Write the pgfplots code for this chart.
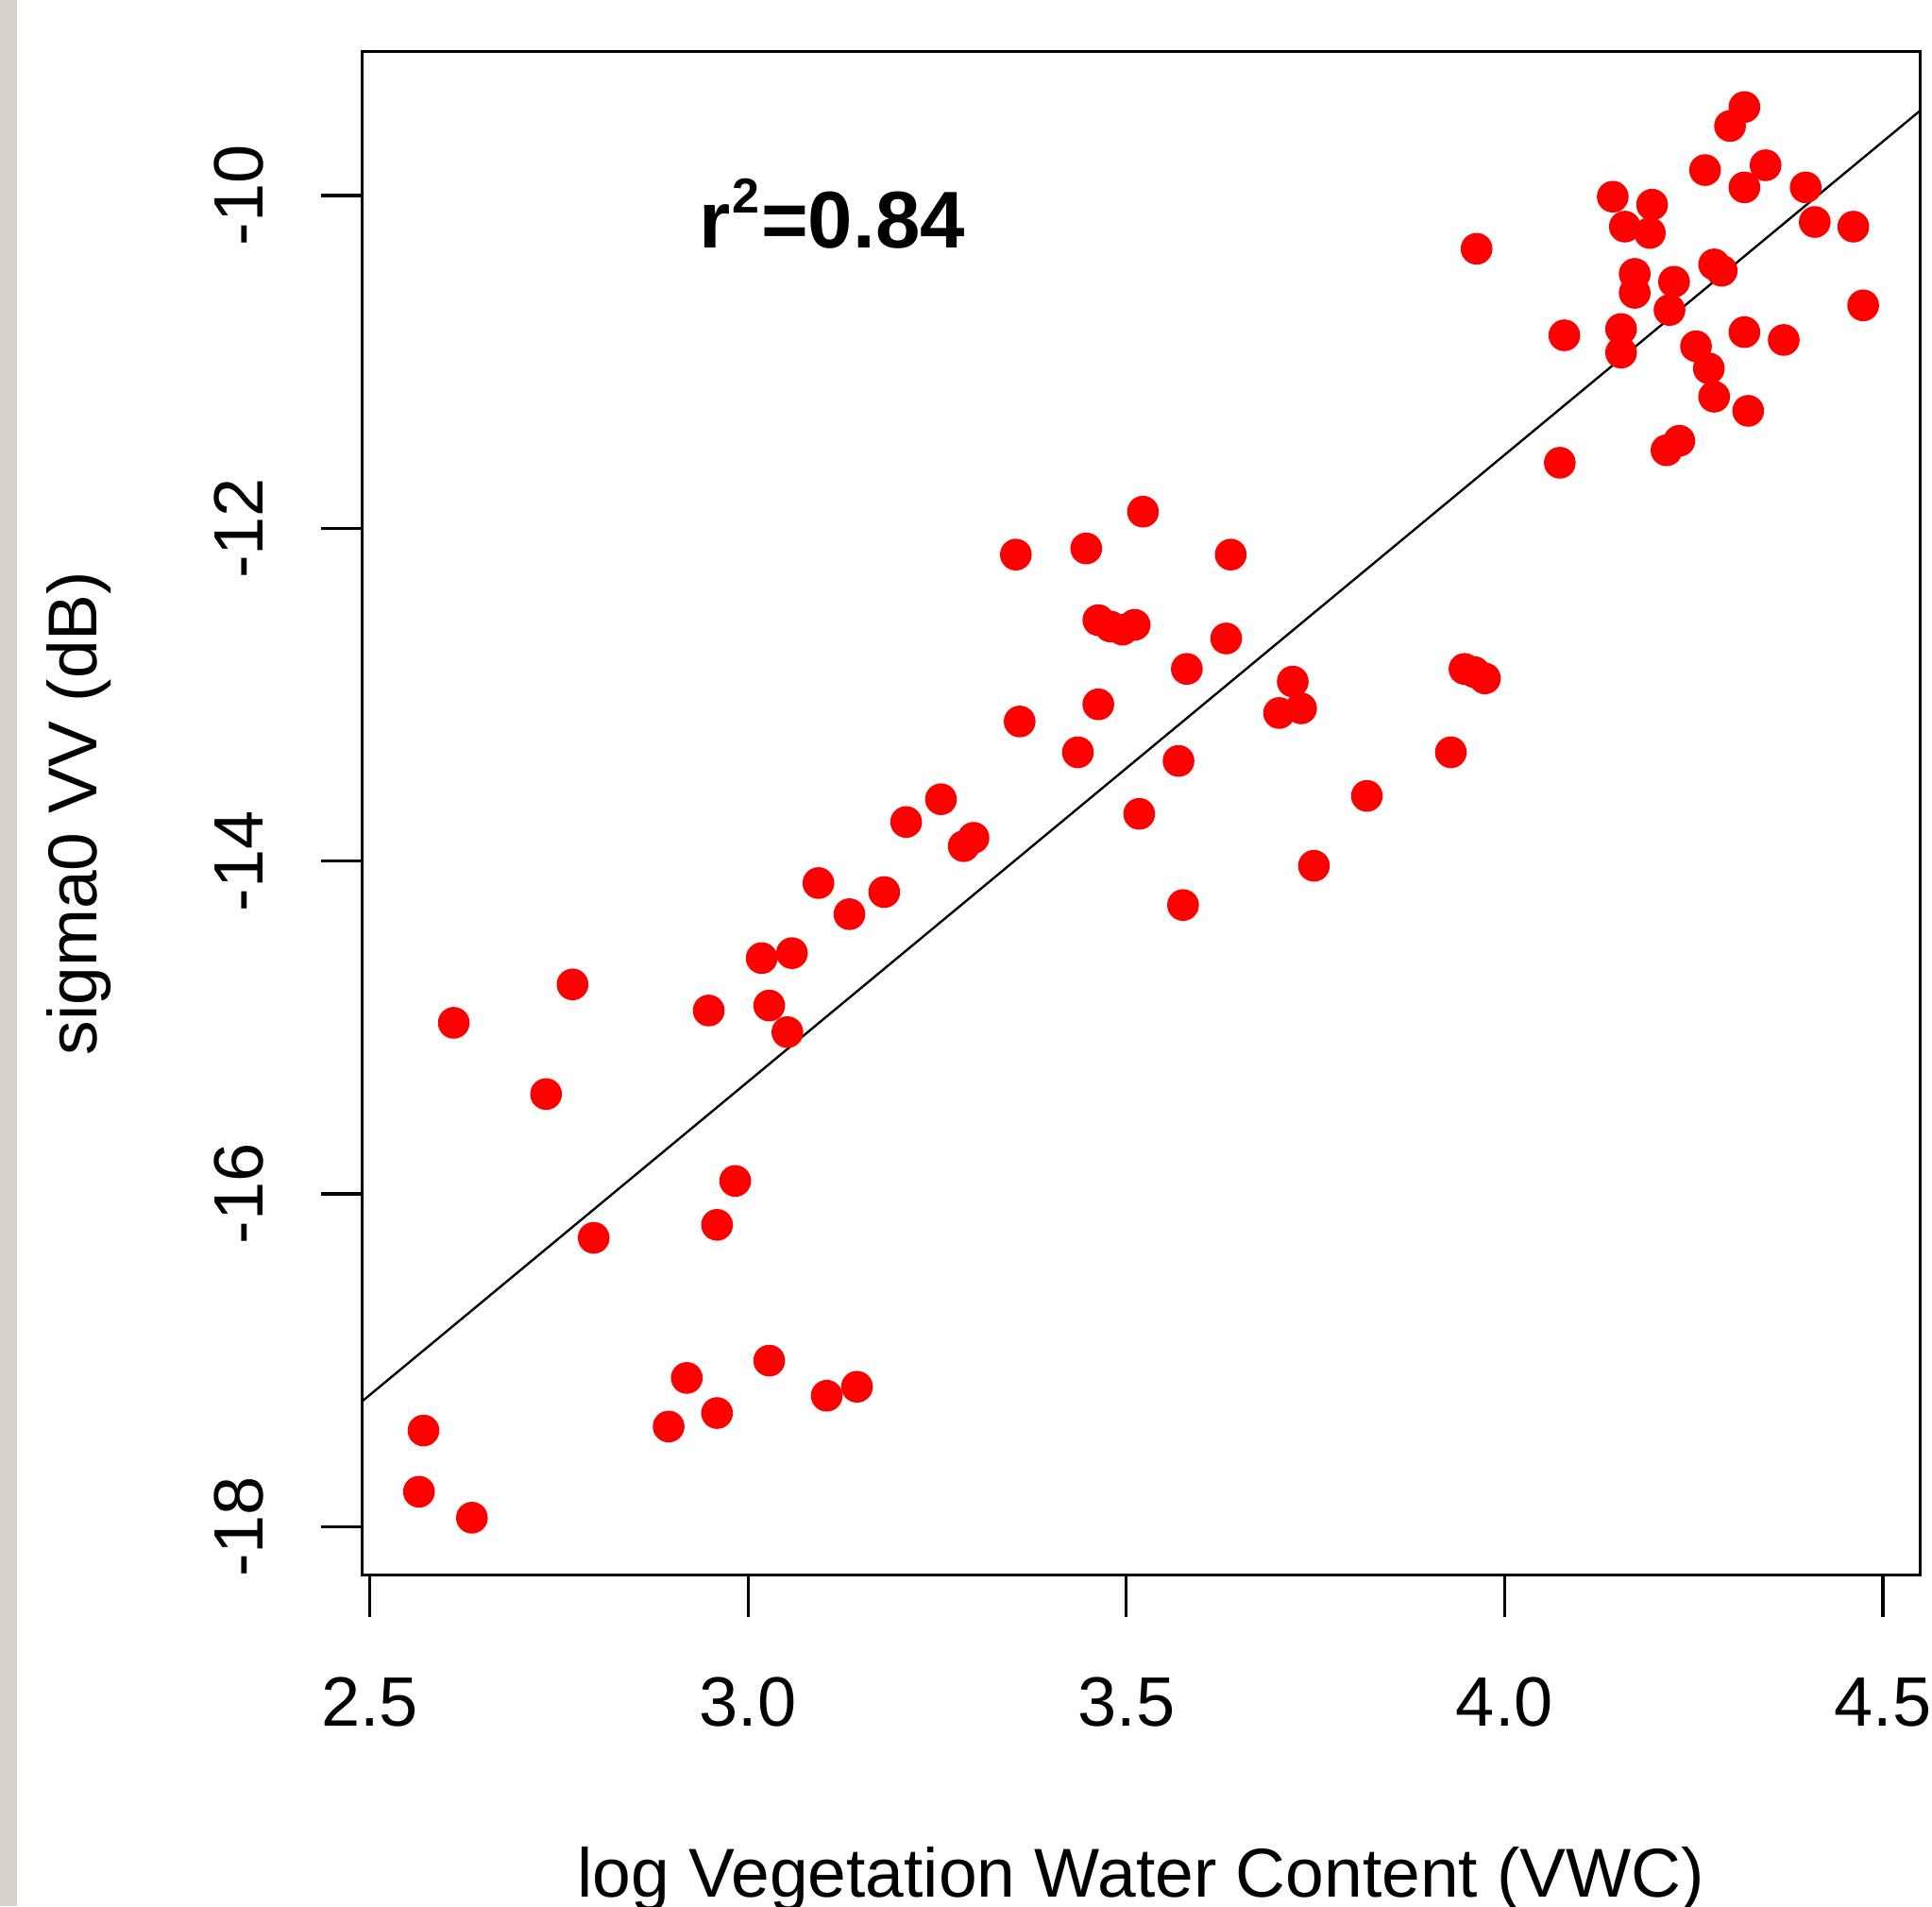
\documentclass[border=0pt]{standalone}
\usepackage{fontspec}
\setmainfont{Liberation Sans}
\usepackage{pgfplots}
\pgfplotsset{compat=1.18}
\definecolor{stripgray}{RGB}{214,211,203}

\begin{document}
\begin{tikzpicture}
\begin{axis}[
  at={(0,0)}, anchor=south west,
  scale only axis, width=412.4pt, height=403.2pt,
  xmin=2.490, xmax=4.549, ymin=-18.291, ymax=-9.136,
  axis line style={line width=0.75pt},
  xtick={2.5,3.0,3.5,4.0,4.5}, xticklabels={2.5,3.0,3.5,4.0,4.5},
  ytick={-18,-16,-14,-12,-10}, yticklabels={-18,-16,-14,-12,-10},
  xtick pos=left, ytick pos=left,
  tick align=outside, major tick length=11pt,
  tick style={line width=0.8pt, black},
  ticklabel style={font=\fontsize{18.5}{20}\selectfont},
  xticklabel style={anchor=base},
  yticklabel style={rotate=90, anchor=base},
  xticklabel shift=28.9pt, yticklabel shift=15.3pt,
  xlabel={log Vegetation Water Content (VWC)},
  ylabel={sigma0 VV (dB)},
  label style={font=\fontsize{18.3}{20}\selectfont},
  xlabel style={at={(axis description cs:0.5,-0.2111)}, anchor=base},
  ylabel style={at={(axis description cs:-0.1707,0.5)}, anchor=base},
  clip=false,
]
% sigma0 VV vs log VWC
\addplot[only marks, mark=*, mark size=4pt, color=red, mark options={fill=red, draw=red}]
  coordinates {
    (4.317,-9.468)(4.298,-9.582)(4.265,-9.847)(4.345,-9.818)(4.317,-9.951)
    (4.398,-9.951)(4.143,-10.007)(4.195,-10.055)(4.159,-10.187)(4.192,-10.225)
    (3.963,-10.320)(4.410,-10.159)(4.461,-10.187)(4.172,-10.471)(4.172,-10.585)
    (4.224,-10.518)(4.218,-10.688)(4.277,-10.414)(4.287,-10.452)(4.079,-10.840)
    (4.154,-10.802)(4.154,-10.944)(4.253,-10.906)(4.270,-11.039)(4.277,-11.209)
    (4.317,-10.821)(4.369,-10.868)(4.474,-10.660)(4.322,-11.294)(4.214,-11.531)
    (4.231,-11.474)(4.073,-11.606)
    (3.522,-11.900)(3.354,-12.158)(3.447,-12.121)(3.638,-12.158)(3.463,-12.552)
    (3.479,-12.590)(3.495,-12.609)(3.511,-12.580)(3.632,-12.662)(3.580,-12.845)
    (3.720,-12.921)(3.702,-13.110)(3.731,-13.082)(3.947,-12.845)(3.960,-12.864)
    (3.974,-12.902)(3.463,-13.058)(3.359,-13.161)(3.436,-13.346)(3.569,-13.398)
    (3.929,-13.346)(3.517,-13.716)(3.818,-13.608)(3.748,-14.028)(3.575,-14.264)
    (3.285,-13.910)(3.298,-13.860)
    (3.255,-13.628)(3.209,-13.765)(3.093,-14.132)(3.180,-14.186)(3.134,-14.319)
    (3.018,-14.583)(3.058,-14.553)(2.768,-14.741)(2.948,-14.898)(3.028,-14.868)
    (3.052,-15.028)(2.611,-14.972)(2.733,-15.400)(2.983,-15.922)(2.959,-16.186)
    (2.796,-16.264)(3.028,-17.002)(2.919,-17.106)(3.144,-17.159)(3.104,-17.213)
    (2.959,-17.317)(2.895,-17.398)(2.571,-17.422)(2.565,-17.790)(2.635,-17.946)
  };
% fitted line
\addplot[black, line width=0.6pt] coordinates {(2.490,-17.246)(4.549,-9.491)};
\node[anchor=base west, inner sep=0pt, font=\bfseries\fontsize{21.3}{24}\selectfont]
  at (axis cs:2.934,-10.316) {r\kern0.5pt\raisebox{9.2pt}{\fontsize{13}{15}\selectfont\bfseries 2}\kern0.5pt=0.84};
\end{axis}
\pgfresetboundingbox
\path[use as bounding box] (-95.9pt,-87.6pt) rectangle (415.6pt,416.9pt);
\fill[stripgray] (-95.9pt,-87.6pt) rectangle (-91.4pt,416.9pt);
\end{tikzpicture}
\end{document}
